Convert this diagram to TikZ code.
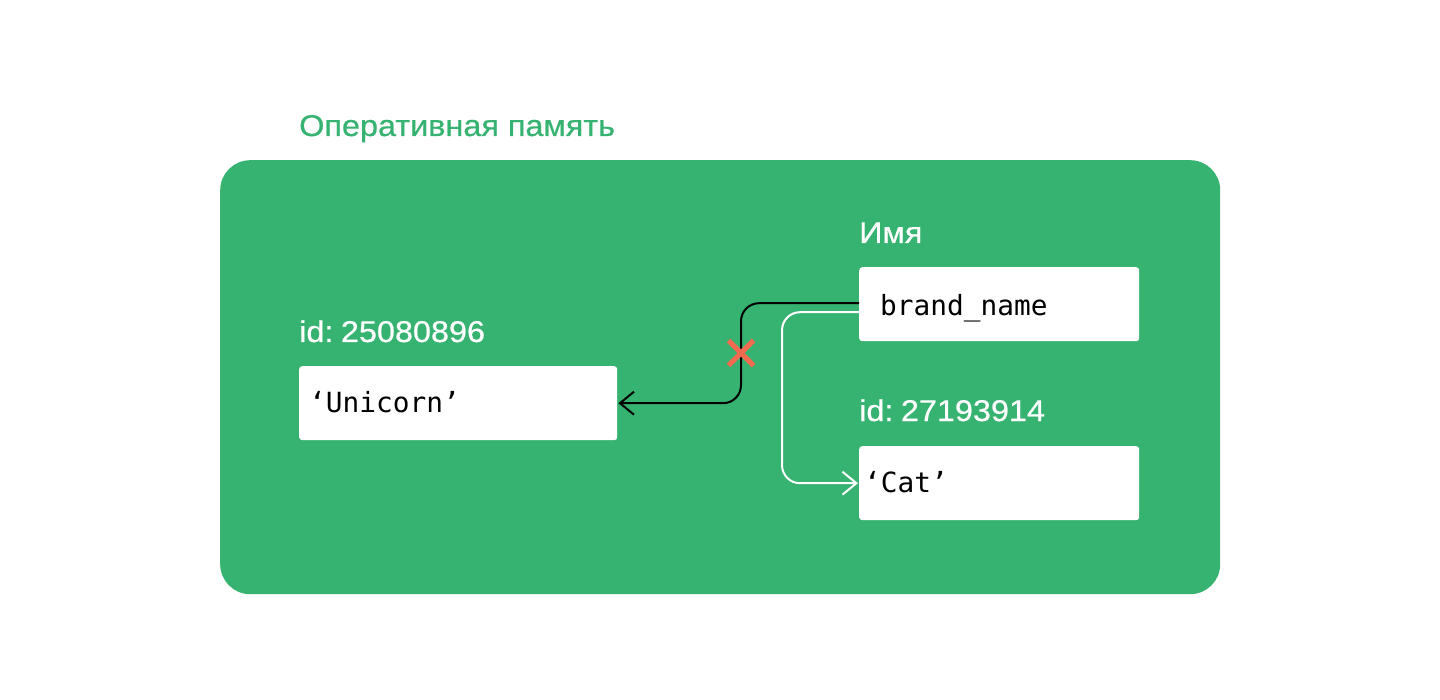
\documentclass[tikz,border=0pt]{standalone}
\usepackage{fontspec}
\setmainfont[FakeStretch=1.08,FakeBold=0.6]{Liberation Sans}
\newfontfamily\monof{DejaVu Sans Mono}
\usetikzlibrary{arrows.meta,shapes.misc}
\definecolor{grn}{RGB}{54,179,112}
\definecolor{xred}{RGB}{242,106,79}
\tikzset{
  lbl/.style={anchor=base west, inner sep=0pt, font=\fontsize{30}{36}\selectfont},
  cell/.style={fill=white, rounded corners=3pt, anchor=north west, minimum width=#1, minimum height=74pt, inner sep=0pt},
  code/.style={anchor=base west, inner sep=0pt, font=\monof\fontsize{27.8}{32}\selectfont},
  conn/.style={line width=2pt, rounded corners=18pt, -{Straight Barb[length=14pt,width=23pt]}},
}
\begin{document}
\begin{tikzpicture}[x=1pt,y=-1pt]
\useasboundingbox (0,0) rectangle (1440,700);
\node[lbl, text=grn] (title) at (299,136) {Оперативная память};
\node[fill=grn, rounded corners=30pt, anchor=north west, minimum width=1000pt, minimum height=434pt, inner sep=0pt] (ram) at (220,160) {};
\node[lbl, text=white] (imya) at (859,243) {Имя};
\node[lbl, text=white] (id1) at (299,342) {id:\kern-1.5pt\ 25080896};
\node[lbl, text=white] (id2) at (859,421) {id:\kern-1.5pt\ 27193914};
\node[cell=280pt] (bn) at (859,267) {};
\node[cell=318pt] (uni) at (299,366) {};
\node[cell=280pt] (cat) at (859,446) {};
\node[code] (bnt) at (880,316) {brand\_name};
\node[code] (unit) at (309,412) {‘Unicorn’};
\node[code] (catt) at (864,492) {‘Cat’};
\coordinate (bk) at (741,0);
\coordinate (wk) at (782,0);
\draw[conn, black] ([yshift=1pt]bn.west) -| (bk |- uni.east) -- ([xshift=1pt]uni.east);
\draw[conn, white] ([yshift=-8pt]bn.west) -| (wk |- cat.west) -- ([xshift=-1pt]cat.west);
\node[cross out, draw=xred, line width=5pt, minimum size=20pt, inner sep=0pt] (x) at (741,353) {};
\end{tikzpicture}
\end{document}
